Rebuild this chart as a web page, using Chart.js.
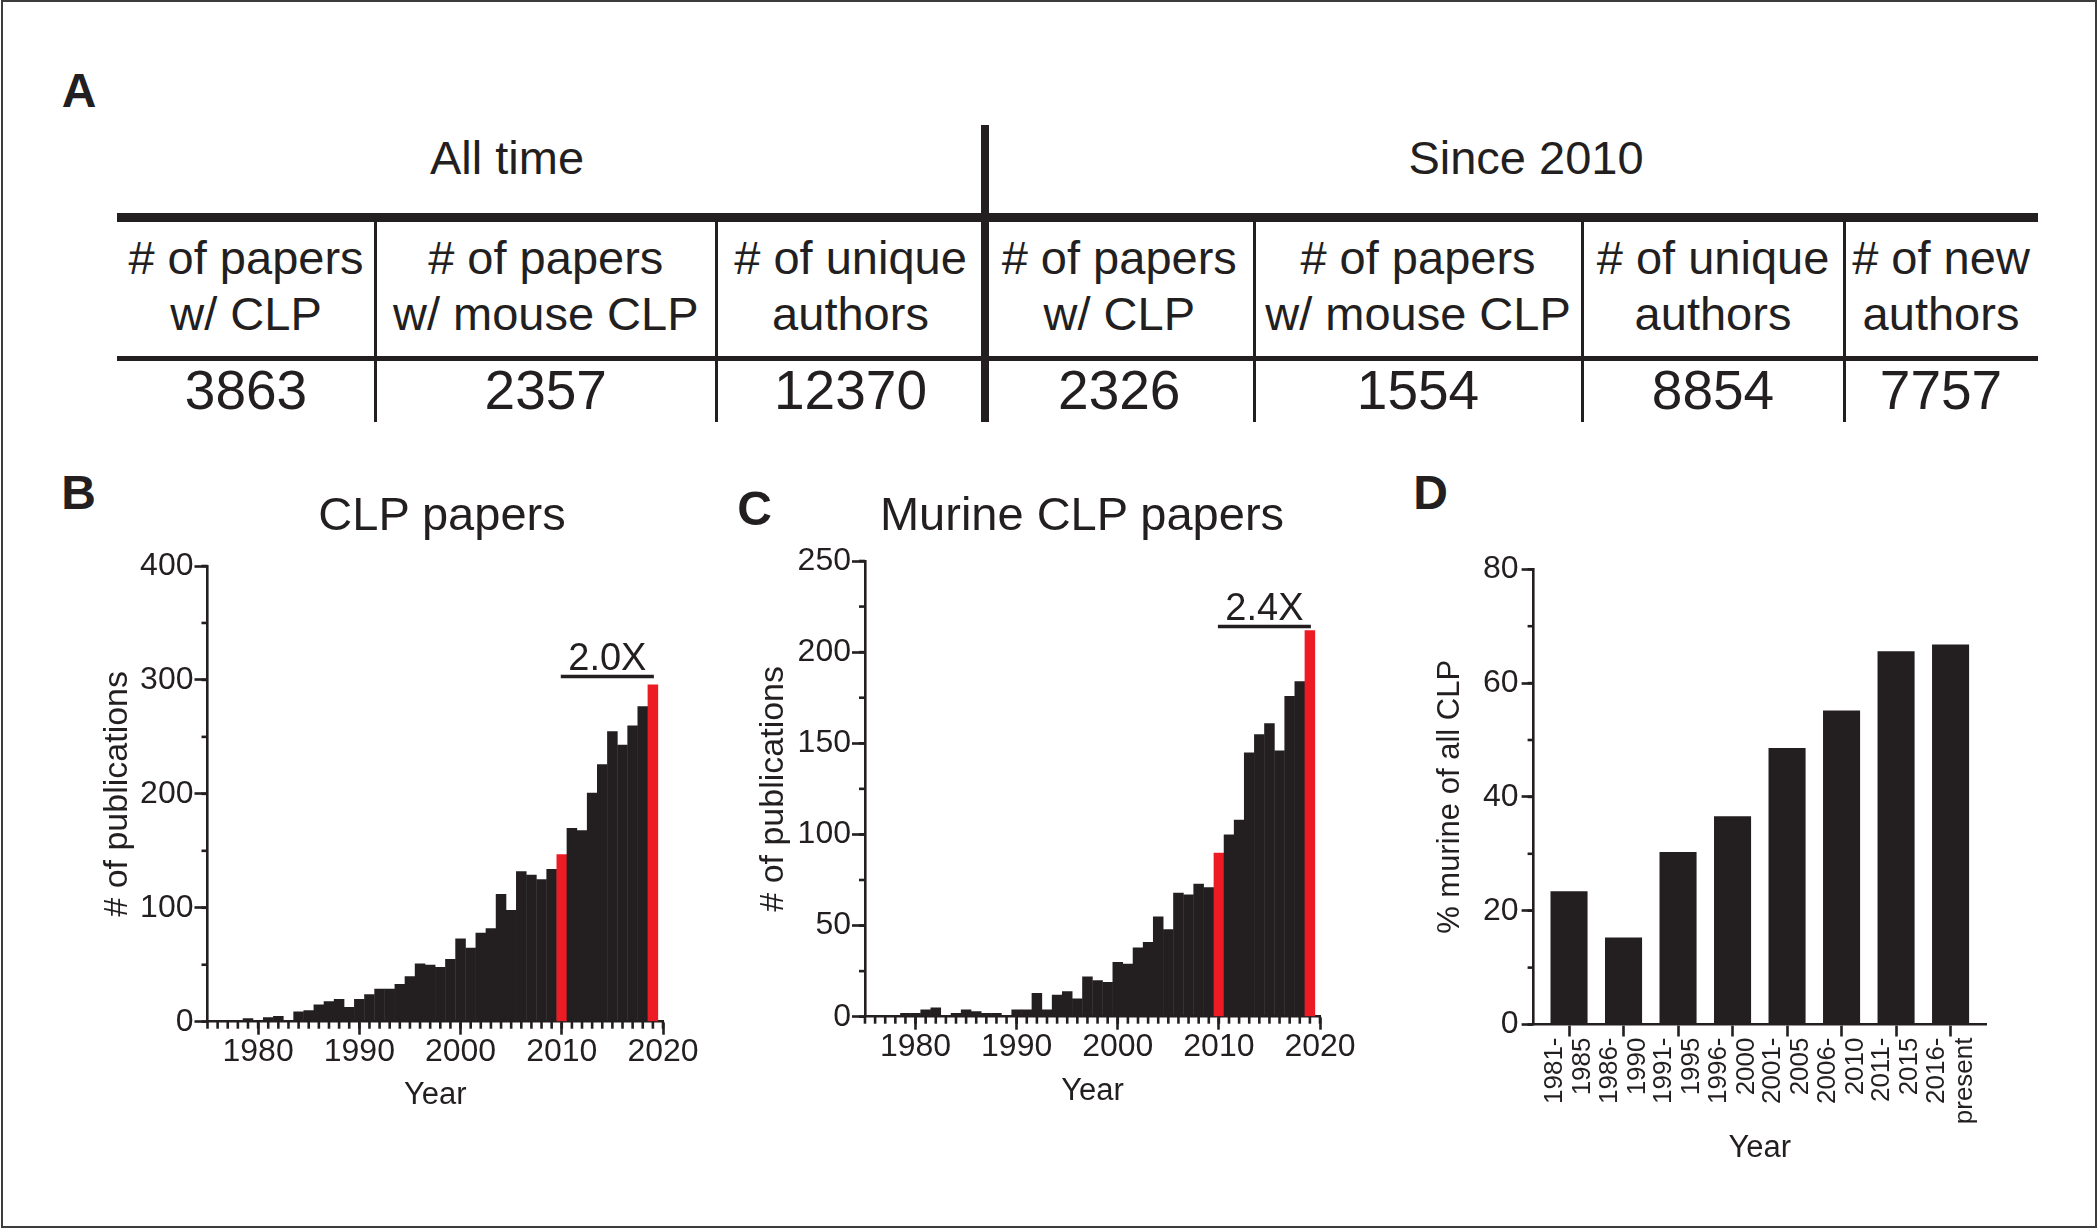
<!DOCTYPE html>
<html>
<head>
<meta charset="utf-8">
<title>CLP publications</title>
<script src="https://cdn.jsdelivr.net/npm/chart.js@4.4.1/dist/chart.umd.min.js"></script>
<style>
  html, body { margin: 0; padding: 0; background: #fff; }
  #fig { position: relative; width: 2100px; height: 1231px; overflow: hidden;
         font-family: "Liberation Sans", Arial, sans-serif; color: #231f20; }
  #frame { position: absolute; left: 1px; top: 0; width: 2092px; height: 1224px; border: 2.5px solid #3c3c3c; }
  .txt { position: absolute; transform: translate(-50%, -50%); line-height: 1; white-space: nowrap; }
  .rule { position: absolute; background: #231f20; }
  canvas { position: absolute; }
</style>
</head>
<body>
<div id="fig">
  <div id="frame"></div>
  <canvas id="chartB" width="663" height="592" style="left:40px;top:530px"></canvas>
  <canvas id="chartC" width="660" height="587" style="left:700px;top:530px"></canvas>
  <canvas id="chartD" width="646" height="645" style="left:1380px;top:530px"></canvas>
</div>
<script>
// ---- data ----
const groupTitles = ['All time', 'Since 2010'];
const colHeaders = [
  ['# of papers', 'w/ CLP'],
  ['# of papers', 'w/ mouse CLP'],
  ['# of unique', 'authors'],
  ['# of papers', 'w/ CLP'],
  ['# of papers', 'w/ mouse CLP'],
  ['# of unique', 'authors'],
  ['# of new', 'authors']
];
const colValues = ['3863', '2357', '12370', '2326', '1554', '8854', '7757'];

const years = [1975, 1976, 1977, 1978, 1979, 1980, 1981, 1982, 1983, 1984,
  1985, 1986, 1987, 1988, 1989, 1990, 1991, 1992, 1993, 1994,
  1995, 1996, 1997, 1998, 1999, 2000, 2001, 2002, 2003, 2004,
  2005, 2006, 2007, 2008, 2009, 2010, 2011, 2012, 2013, 2014,
  2015, 2016, 2017, 2018, 2019];
const clpPapers = [0, 0, 0, 0, 3, 0, 4, 5, 1, 9,
  10, 15, 18, 20, 13, 20, 24, 29, 29, 33,
  40, 51, 50, 48, 55, 73, 65, 78, 82, 112,
  98, 132, 129, 125, 134, 147, 170, 168, 201, 226,
  255, 243, 260, 277, 296];
const murinePapers = [0, 0, 0, 0, 2, 2, 4, 5, 0, 2,
  4, 3, 2, 2, 0, 4, 4, 13, 4, 12,
  14, 10, 22, 20, 19, 30, 29, 38, 41, 55,
  48, 68, 67, 73, 71, 90, 100, 108, 145, 155,
  161, 146, 176, 184, 212];
const highlightYears = [2010, 2019];
const yearTicks = [1980, 1990, 2000, 2010, 2020];
const foldLabels = ['2.0X', '2.4X'];

const periodLabels = [
  ['1981-', '1985'], ['1986-', '1990'], ['1991-', '1995'], ['1996-', '2000'],
  ['2001-', '2005'], ['2006-', '2010'], ['2011-', '2015'], ['2016-', 'present']
];
const murinePercent = [23.4, 15.3, 30.3, 36.6, 48.6, 55.2, 65.6, 66.8];

// ---- style ----
const INK = '#231f20';
const RED = '#ed1c24';
const LW = 2.6;
const FAMILY = '"Liberation Sans", Arial, sans-serif';
Chart.defaults.font.family = FAMILY;
Chart.defaults.color = INK;

const fig = document.getElementById('fig');

function addText(str, cx, cy, size, bold) {
  const d = document.createElement('div');
  d.className = 'txt';
  d.textContent = str;
  d.style.left = cx + 'px';
  d.style.top = cy + 'px';
  d.style.fontSize = size + 'px';
  if (bold) d.style.fontWeight = 'bold';
  fig.appendChild(d);
}
function addRule(x1, y1, x2, y2) {
  const d = document.createElement('div');
  d.className = 'rule';
  d.style.left = x1 + 'px';
  d.style.top = y1 + 'px';
  d.style.width = (x2 - x1) + 'px';
  d.style.height = (y2 - y1) + 'px';
  fig.appendChild(d);
}

// ---- panel A: table ----
const colEdges = [117, 375, 716.5, 984.5, 1254, 1582, 1844, 2038];
addText('A', 79, 91, 48, true);
addText(groupTitles[0], 507, 157, 47);
addText(groupTitles[1], 1526, 157, 47);
addRule(117, 212.5, 2038, 221.5);
addRule(117, 356.2, 2038, 360.8);
addRule(980.5, 125, 988.5, 422);
colEdges.slice(1, -1).forEach(x => {
  if (x !== 984.5) addRule(x - 1.5, 217, x + 1.5, 422);
});
colHeaders.forEach((h, i) => {
  const cx = (colEdges[i] + colEdges[i + 1]) / 2;
  addText(h[0], cx, 257, 47);
  addText(h[1], cx, 313, 47);
  addText(colValues[i], cx, 390, 55);
});

// ---- panel labels and titles ----
addText('B', 78.5, 493, 48, true);
addText('C', 754.5, 509, 48, true);
addText('D', 1430.5, 493, 48, true);
addText('CLP papers', 442, 513, 47);
addText('Murine CLP papers', 1082, 513, 47);

// ---- plugins ----
function minorTicks(specs) {
  return {
    id: 'minorTicks',
    afterDraw(chart) {
      const ctx = chart.ctx;
      ctx.save();
      ctx.strokeStyle = INK;
      ctx.lineWidth = LW;
      specs.forEach(sp => {
        const s = chart.scales[sp.axis];
        const n = Math.round((s.max - s.min) / sp.step);
        for (let k = 0; k <= n; k++) {
          const p = s.getPixelForValue(s.min + k * sp.step);
          ctx.beginPath();
          if (sp.axis === 'x') { ctx.moveTo(p, s.top); ctx.lineTo(p, s.top + sp.len); }
          else { ctx.moveTo(s.right - sp.len, p); ctx.lineTo(s.right, p); }
          ctx.stroke();
        }
      });
      ctx.restore();
    }
  };
}

function foldMark(f) {
  return {
    id: 'foldMark',
    afterDatasetsDraw(chart) {
      const { ctx, scales: { x, y } } = chart;
      const x1 = x.getPixelForValue(f.from);
      const x2 = x.getPixelForValue(f.to);
      const yy = y.getPixelForValue(f.level);
      ctx.save();
      ctx.strokeStyle = INK;
      ctx.lineWidth = 3.5;
      ctx.beginPath();
      ctx.moveTo(x1 - 1, yy);
      ctx.lineTo(x2 + 1, yy);
      ctx.stroke();
      ctx.fillStyle = INK;
      ctx.font = '38px ' + FAMILY;
      ctx.textAlign = 'center';
      ctx.textBaseline = 'alphabetic';
      ctx.fillText(f.text, (x1 + x2) / 2, yy - 7);
      ctx.restore();
    }
  };
}

// ---- panels B and C ----
function yearChart(canvasId, values, yMax, yStep, yMinorStep, fold, lay) {
  return new Chart(document.getElementById(canvasId), {
    type: 'bar',
    data: {
      datasets: [{
        data: years.map((yr, i) => ({ x: yr, y: values[i] })),
        backgroundColor: years.map(yr => highlightYears.includes(yr) ? RED : INK),
        borderWidth: 0,
        barPercentage: 1.04,
        categoryPercentage: 1
      }]
    },
    options: {
      responsive: false,
      animation: false,
      events: [],
      layout: { padding: { left: 0, right: lay.padRight, top: lay.padTop, bottom: 0 } },
      plugins: { legend: { display: false }, tooltip: { enabled: false } },
      scales: {
        x: {
          type: 'linear', min: 1975, max: 2020, offset: false,
          afterBuildTicks: s => { s.ticks = yearTicks.map(v => ({ value: v })); },
          afterFit: s => { s.height = lay.xHeight; },
          grid: { offset: false, drawOnChartArea: false, drawTicks: true, tickLength: 13, tickWidth: LW, tickColor: INK },
          border: { display: true, color: INK, width: LW },
          ticks: { autoSkip: false, maxRotation: 0, padding: 0, color: INK,
                   font: { size: 32, lineHeight: 1.1 }, callback: v => String(v) },
          title: { display: true, text: 'Year', color: INK, font: { size: 31, lineHeight: 1.2 },
                   padding: { top: 0, bottom: lay.xTitlePad } }
        },
        y: {
          min: 0, max: yMax,
          afterFit: s => { s.width = lay.yWidth; },
          grid: { drawOnChartArea: false, drawTicks: true, tickLength: 13, tickWidth: LW, tickColor: INK },
          border: { display: true, color: INK, width: LW },
          ticks: { stepSize: yStep, padding: 1, color: INK, font: { size: 32, lineHeight: 1.2 } },
          title: { display: true, text: '# of publications', color: INK, font: { size: 34, lineHeight: 1.2 },
                   padding: { top: lay.yTitlePad, bottom: 0 } }
        }
      }
    },
    plugins: [
      minorTicks([{ axis: 'x', step: 1, len: 7 }, { axis: 'y', step: yMinorStep, len: 6 }]),
      foldMark(fold)
    ]
  });
}

yearChart('chartB', clpPapers, 400, 100, 50,
  { from: 2010, to: 2019, level: 303, text: foldLabels[0] },
  { padTop: 36, padRight: 40, yWidth: 167.5, xHeight: 100.3, yTitlePad: 57.6, xTitlePad: 8.4 });

yearChart('chartC', murinePapers, 250, 50, 25,
  { from: 2010, to: 2019, level: 214, text: foldLabels[1] },
  { padTop: 31, padRight: 40, yWidth: 165, xHeight: 100.3, yTitlePad: 53.6, xTitlePad: 7.4 });

// ---- panel D ----
new Chart(document.getElementById('chartD'), {
  type: 'bar',
  data: {
    datasets: [{
      data: murinePercent.map((v, i) => ({ x: i, y: v })),
      backgroundColor: INK,
      borderWidth: 0,
      barPercentage: 0.68,
      categoryPercentage: 1
    }]
  },
  options: {
    responsive: false,
    animation: false,
    events: [],
    layout: { padding: { left: 0, right: 40, top: 39.3, bottom: 0 } },
    plugins: { legend: { display: false }, tooltip: { enabled: false } },
    scales: {
      x: {
        type: 'linear', min: -0.65, max: 7.65, offset: false,
        afterBuildTicks: s => { s.ticks = periodLabels.map((_, i) => ({ value: i })); },
        afterFit: s => { s.height = 150.5; },
        grid: { offset: false, drawOnChartArea: false, drawTicks: true, tickLength: 12, tickWidth: LW, tickColor: INK },
        border: { display: true, color: INK, width: LW },
        ticks: { autoSkip: false, minRotation: 90, maxRotation: 90, padding: 1, labelOffset: -14,
                 color: INK, font: { size: 26, lineHeight: 1.08 }, callback: v => periodLabels[v] },
        title: { display: true, text: 'Year', color: INK, font: { size: 31, lineHeight: 1.2 },
                 padding: { top: 0, bottom: 7.9 } }
      },
      y: {
        min: 0, max: 80,
        afterFit: s => { s.width = 153.6; },
        grid: { drawOnChartArea: false, drawTicks: true, tickLength: 12, tickWidth: LW, tickColor: INK },
        border: { display: true, color: INK, width: LW },
        ticks: { stepSize: 20, padding: 3, color: INK, font: { size: 32, lineHeight: 1.2 } },
        title: { display: true, text: '% murine of all CLP', color: INK, font: { size: 31, lineHeight: 1.2 },
                 padding: { top: 51.4, bottom: 0 } }
      }
    }
  },
  plugins: [minorTicks([{ axis: 'y', step: 10, len: 6 }])]
});
</script>
</body>
</html>
